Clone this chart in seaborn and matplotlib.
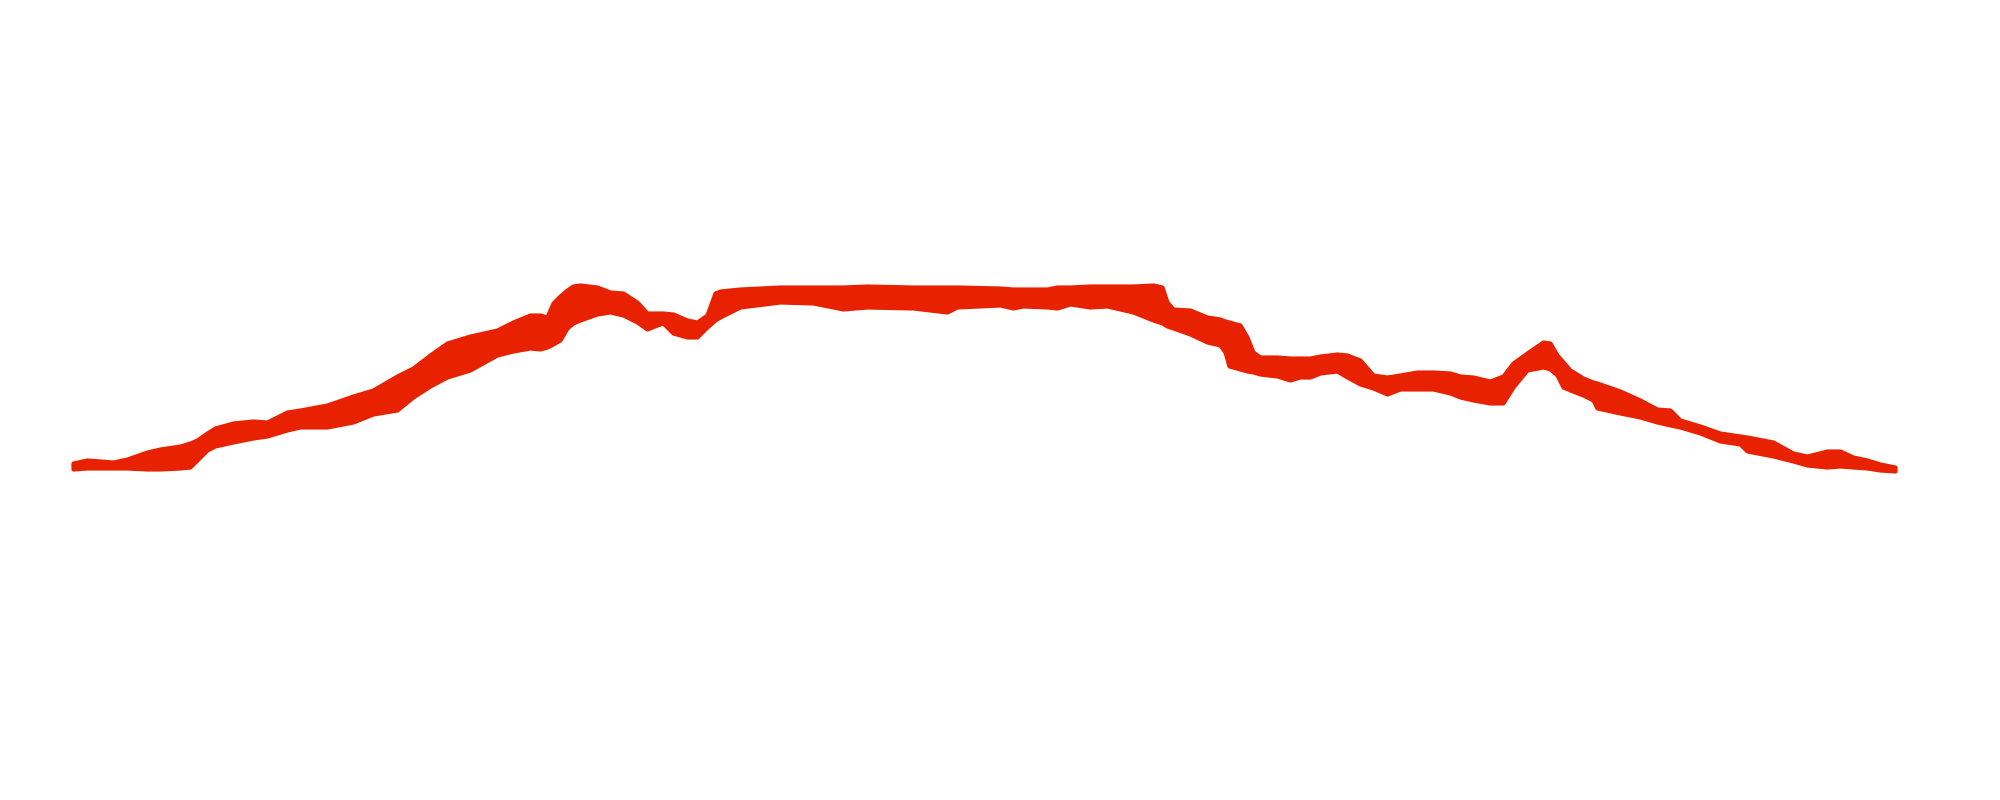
import numpy as np
import pandas as pd
import seaborn as sns
import matplotlib.pyplot as plt

# distance along the route (km) and the upper / lower edge of the elevation band (m)
km = [0.0, 1.4, 4.0, 5.4, 7.4, 8.7, 10.7, 11.7, 12.4, 13.4, 14.2, 16.0, 18.0, 19.4,
      21.4, 22.7, 25.4, 28.0, 30.0, 32.4, 34.0, 35.7, 37.4, 39.7, 42.4, 44.0, 45.7,
      46.7, 47.4, 48.0, 48.7, 49.4, 50.0, 50.7, 52.4, 53.7, 55.0, 56.4, 57.4, 58.4,
      59.0, 60.0, 61.4, 62.4, 63.4, 64.2, 64.7, 66.7, 70.7, 74.0, 77.0, 79.4, 84.0,
      87.4, 88.4, 92.7, 94.0, 95.0, 97.4, 98.4, 99.7, 101.7, 103.4, 106.0, 108.0,
      108.9, 109.4, 110.0, 111.7, 113.4, 114.7, 115.2, 115.6, 116.7, 117.4, 118.0,
      118.7, 120.4, 121.7, 122.7, 123.7, 124.7, 126.4, 127.4, 128.7, 130.0, 131.4,
      132.7, 134.4, 136.0, 137.7, 138.7, 140.0, 141.7, 143.0, 144.0, 145.4, 147.0,
      147.7, 148.4, 149.0, 149.7, 151.0, 152.0, 152.4, 154.7, 156.7, 158.4, 159.7,
      160.7, 162.7, 164.7, 166.7, 167.4, 170.0, 172.0, 173.4, 175.4, 176.7, 178.0,
      179.4, 180.7, 182.2]

elev_top = [370, 400, 380, 410, 480, 510, 540, 570, 600, 670, 720, 770, 790, 780,
            880, 900, 950, 1040, 1100, 1240, 1320, 1450, 1570, 1640, 1700, 1780, 1850,
            1850, 1830, 1970, 2040, 2100, 2140, 2150, 2130, 2080, 2070, 1980, 1870, 1870,
            1870, 1860, 1800, 1780, 1850, 2070, 2090, 2110, 2130, 2130, 2130, 2140, 2130,
            2130, 2130, 2120, 2110, 2110, 2110, 2130, 2130, 2140, 2140, 2140, 2150,
            2130, 1980, 1910, 1900, 1830, 1810, 1790, 1780, 1750, 1630, 1480,
            1430, 1430, 1420, 1420, 1420, 1440, 1460, 1450, 1400, 1250, 1230,
            1250, 1280, 1280, 1270, 1240, 1230, 1190, 1240, 1370, 1470, 1580,
            1570, 1450, 1380, 1300, 1220, 1180, 1170, 1090, 1000, 910, 900,
            800, 740, 670, 640, 630, 580, 470, 440, 490, 490, 430,
            400, 360, 330]

elev_bottom = [310, 320, 320, 320, 310, 310, 320, 330, 400, 500, 540, 580, 620, 640,
               700, 730, 730, 780, 860, 900, 1030, 1140, 1230, 1300, 1450, 1490, 1520,
               1510, 1530, 1560, 1600, 1720, 1770, 1800, 1860, 1880, 1850, 1780, 1710, 1750,
               1770, 1670, 1630, 1630, 1730, 1800, 1830, 1930, 1980, 1970, 1910, 1930, 1920,
               1880, 1930, 1950, 1920, 1940, 1930, 1920, 1960, 1930, 1940, 1880, 1800,
               1770, 1740, 1720, 1660, 1580, 1550, 1480, 1340, 1310, 1290, 1280,
               1260, 1240, 1200, 1230, 1230, 1270, 1290, 1230, 1160, 1120, 1060,
               1110, 1110, 1110, 1070, 1030, 1000, 970, 970, 1130, 1300, 1330,
               1310, 1250, 1130, 1100, 1050, 1000, 920, 870, 830, 780, 750,
               730, 670, 590, 560, 490, 440, 390, 350, 330, 340, 330,
               320, 300, 290]

df = pd.DataFrame({
    'km': km + km,
    'elev': elev_top + elev_bottom,
})

red = '#e82200'

sns.set_style('white')
fig = plt.figure(figsize=(20, 8), dpi=100)
ax = fig.add_axes([0, 0, 1, 1])

# band spans min..max of the two edges at each distance
sns.lineplot(data=df, x='km', y='elev', ax=ax,
             estimator='mean', errorbar=('pi', 100),
             color=red, linewidth=2,
             err_kws={'alpha': 1, 'linewidth': 3, 'edgecolor': red,
                      'joinstyle': 'round', 'capstyle': 'round'})

ax.set_xlim(-7.3, 192.7)
ax.set_ylim(-3000, 5000)
ax.axis('off')

plt.savefig('out.png', dpi=100, facecolor='white')
